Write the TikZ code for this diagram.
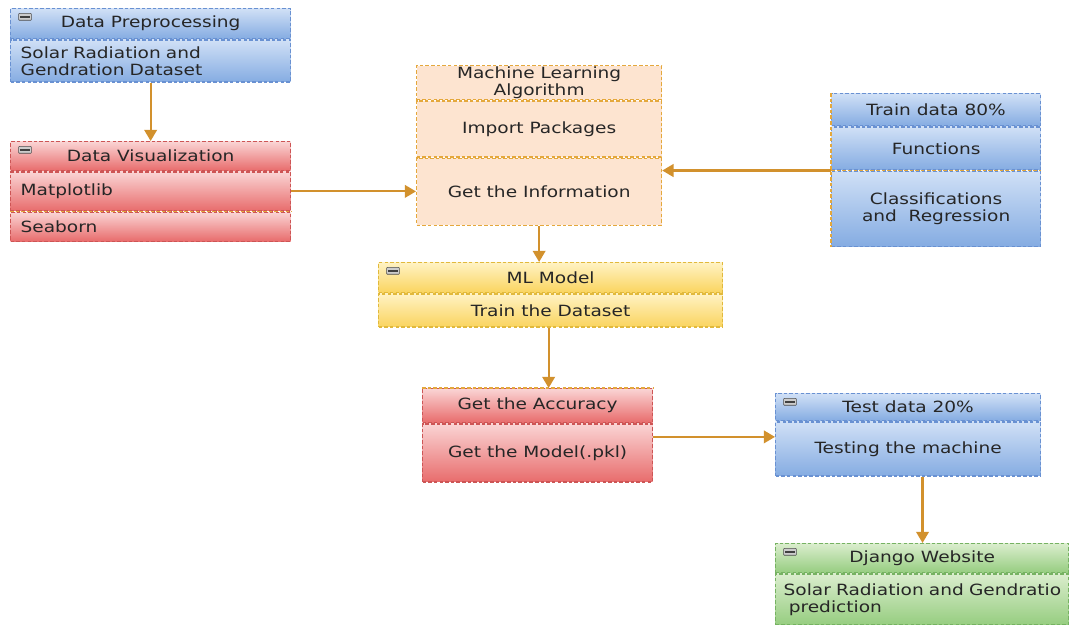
\documentclass[tikz,border=0pt]{standalone}
\usepackage{fontspec}
\setmainfont{DejaVu Sans}[FakeStretch=1.2]
\usetikzlibrary{arrows.meta, positioning}
\definecolor{blueT}{RGB}{208,224,246}
\definecolor{blueB}{RGB}{133,172,226}
\definecolor{blueD}{RGB}{105,145,210}
\definecolor{redT}{RGB}{250,212,212}
\definecolor{redB}{RGB}{232,108,108}
\definecolor{redD}{RGB}{205,85,85}
\definecolor{peachF}{RGB}{253,228,208}
\definecolor{orangeD}{RGB}{228,168,60}
\definecolor{yellowT}{RGB}{255,242,195}
\definecolor{yellowB}{RGB}{250,212,95}
\definecolor{yellowD}{RGB}{225,185,60}
\definecolor{greenT}{RGB}{218,237,205}
\definecolor{greenB}{RGB}{150,205,128}
\definecolor{greenD}{RGB}{118,178,98}
\definecolor{arrowcol}{RGB}{210,145,45}

\begin{document}
\begin{tikzpicture}[
    part/.style={draw, dash pattern=on 2.5pt off 1.5pt, line width=0.9pt, anchor=north west, inner sep=0pt, text=black!85, font=\fontsize{11}{12}\selectfont, align=center},
    bluepart/.style={draw=blueD, top color=blueT, bottom color=blueB},
    redpart/.style={draw=redD, top color=redT, bottom color=redB},
    peachpart/.style={draw=orangeD, fill=peachF},
    yellowpart/.style={draw=yellowD, top color=yellowT, bottom color=yellowB},
    greenpart/.style={draw=greenD, top color=greenT, bottom color=greenB},
    icon/.style={path picture={
        \draw[solid, gray!60!black, fill=gray!40, line width=0.4pt, rounded corners=0.5pt] ([shift={(0.2,-0.12)}]path picture bounding box.north west) rectangle ++(0.32,-0.17);
        \draw[solid, black!75, line width=1pt] ([shift={(0.24,-0.205)}]path picture bounding box.north west) -- ++(0.24,0);}},
    sep/.style={draw=orangeD, dash pattern=on 2.5pt off 1.5pt, line width=1pt},
    arrow/.style={-{Triangle[length=8pt,width=9pt]}, line width=1.5pt, draw=arrowcol, fill=arrowcol}
]
    \useasboundingbox (0,0) rectangle (26.75,-15.625);

    % data preprocessing
    \node[part, bluepart, icon, minimum width=7cm, minimum height=0.75cm] (preh) at (0.25,-0.2) {Data Preprocessing};
    \node[part, bluepart, minimum width=7cm, minimum height=1.05cm, align=left, text width=6.5cm, inner xsep=0.25cm] (preb) at (preh.south west) {Solar Radiation and\\Gendration Dataset};

    % data visualization
    \node[part, redpart, icon, minimum width=7cm, minimum height=0.725cm] (vish) at (0.25,-3.525) {Data Visualization};
    \node[part, redpart, minimum width=7cm, minimum height=0.975cm, align=left, text width=6.5cm, inner xsep=0.25cm] (vmat) at (vish.south west) {Matplotlib};
    \node[part, redpart, minimum width=7cm, minimum height=0.725cm, align=left, text width=6.5cm, inner xsep=0.25cm] (vsea) at (vmat.south west) {Seaborn};

    % machine learning algorithm
    \node[part, peachpart, minimum width=6.125cm, minimum height=0.85cm] (mlah) at (10.4,-1.625) {Machine Learning\\Algorithm};
    \node[part, peachpart, minimum width=6.125cm, minimum height=1.4cm] (mimp) at (mlah.south west) {Import Packages};
    \node[part, peachpart, minimum width=6.125cm, minimum height=1.675cm] (minf) at (mimp.south west) {Get the Information};

    % train data
    \node[part, bluepart, minimum width=5.225cm, minimum height=0.8cm] (trnh) at (20.775,-2.325) {Train data 80\%};
    \node[part, bluepart, minimum width=5.225cm, minimum height=1.075cm] (tfun) at (trnh.south west) {Functions};
    \node[part, bluepart, minimum width=5.225cm, minimum height=1.875cm] (tcls) at (tfun.south west) {Classifications\\and~ Regression};

    % ml model
    \node[part, yellowpart, icon, minimum width=8.6cm, minimum height=0.75cm] (mlmh) at (9.45,-6.55) {ML Model};
    \node[part, yellowpart, minimum width=8.6cm, minimum height=0.825cm] (mlmb) at (mlmh.south west) {Train the Dataset};

    % accuracy
    \node[part, redpart, minimum width=5.75cm, minimum height=0.85cm] (acch) at (10.55,-9.7) {Get the Accuracy};
    \node[part, redpart, minimum width=5.75cm, minimum height=1.45cm] (accm) at (acch.south west) {Get the Model(.pkl)};

    % test data
    \node[part, bluepart, icon, minimum width=6.625cm, minimum height=0.675cm] (tsth) at (19.375,-9.825) {Test data 20\%};
    \node[part, bluepart, minimum width=6.625cm, minimum height=1.35cm] (tstb) at (tsth.south west) {Testing the machine};

    % django
    \node[part, greenpart, icon, minimum width=7.325cm, minimum height=0.725cm] (djah) at (19.375,-13.575) {Django Website};
    \node[part, greenpart, minimum width=7.325cm, minimum height=1.275cm, align=left, text width=6.925cm, inner xsep=0.2cm] (djab) at (djah.south west) {\mbox{Solar Radiation and Gendratio}\\\ prediction};

    % orange separators
    \draw[sep] (vmat.south west) -- (vmat.south east);
    \draw[sep] (tfun.south west) -- (tfun.south east);
    \draw[sep] (trnh.north west) -- (tcls.south west);
    \draw[sep] (acch.north west) -- (acch.north east);

    \coordinate (mlmo) at ([xshift=-0.05cm]mlmb.south);
    \coordinate (acco) at ([yshift=0.4cm]accm.east);
    \coordinate (tsto) at ([xshift=0.36cm]tstb.south);

    \draw[arrow] (preb.south) -- (vish.north);
    \draw[arrow] (vmat.east) -- (vmat.east -| minf.west);
    \draw[arrow] (tfun.south west) -- (tfun.south west -| minf.east);
    \draw[arrow] (minf.south) -- (minf.south |- mlmh.north);
    \draw[arrow] (mlmo) -- (mlmo |- acch.north);
    \draw[arrow] (acco) -- (acco -| tstb.west);
    \draw[arrow] (tsto) -- (tsto |- djah.north);
\end{tikzpicture}
\end{document}
